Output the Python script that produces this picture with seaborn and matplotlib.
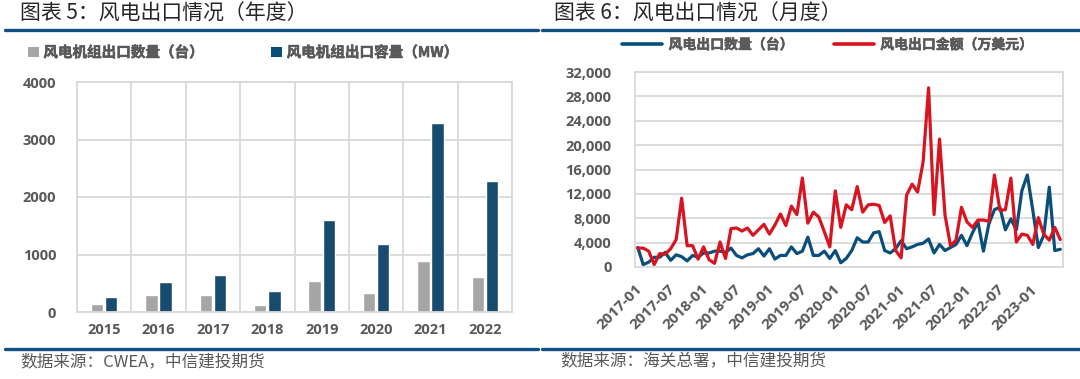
import numpy as np
import pandas as pd
import matplotlib
matplotlib.use('Agg')
import matplotlib.pyplot as plt
import matplotlib.patheffects as pe
from matplotlib.lines import Line2D
from matplotlib.patches import Patch
from matplotlib.ticker import FuncFormatter, FixedLocator
import seaborn as sns

# yearly exports (CWEA)
years = ['2015', '2016', '2017', '2018', '2019', '2020', '2021', '2022']
units = [140, 300, 300, 122, 545, 325, 881, 603]
capacity = [267, 522, 638, 371, 1600, 1183, 3287, 2284]

# monthly exports (customs), 2017-01 .. 2023-06
months = pd.period_range('2017-01', '2023-06', freq='M').strftime('%Y-%m').tolist()
qty = [3200, 400, 800, 1600, 1600, 2400, 1100, 2000, 1700, 1000, 1900, 1600,
       2300, 2300, 2600, 2600, 2400, 3100, 1900, 1500, 2000, 2200, 3000, 1800,
       3000, 1300, 1900, 1900, 3300, 2200, 2600, 4900, 1900, 1900, 2600, 1400,
       2700, 700, 1400, 2700, 4800, 4100, 4100, 5600, 5800, 2700, 2300, 3000,
       4300, 3000, 3300, 3700, 3900, 4600, 2300, 3700, 2700, 3200, 3700, 5200,
       3500, 5600, 7400, 2600, 7100, 9400, 9800, 6100, 7900, 6100, 12500, 15100,
       9300, 3200, 5200, 13100, 2700, 2900]
value = [3100, 3100, 2600, 400, 2200, 2100, 3000, 4500, 11300, 3500, 3500, 1300,
         3300, 1200, 600, 4100, 1400, 6300, 6400, 5900, 6400, 5200, 6100, 7000,
         5400, 6900, 8700, 6800, 10000, 8600, 14600, 7200, 9000, 8200, 5800, 3300,
         12500, 6500, 10200, 9400, 13200, 9000, 10200, 10300, 10100, 7300, 8400, 2700,
         1500, 11800, 13600, 12300, 17200, 29400, 8600, 21000, 8500, 3500, 4400, 9800,
         7400, 6500, 7700, 7700, 7500, 15100, 9300, 9400, 14600, 4100, 5400, 5200,
         3700, 8100, 5400, 4400, 6500, 4500]

s_units = '风电机组出口数量（台）'
s_cap = '风电机组出口容量（MW）'
s_qty = '风电出口数量（台）'
s_val = '风电出口金额（万美元）'

GRAY = '#a6a6a6'
NAVY = '#0a4e7c'
RED = '#d7141f'
GRID = '#d9d9d9'
TXT = '#595959'
HEAD = '#124f82'

sns.set_theme(style='white')
plt.rcParams['font.family'] = ['Noto Sans CJK SC', 'DejaVu Sans']

fig = plt.figure(figsize=(10.8, 3.79), dpi=100)
W, H = 1080, 379


def fx(px):
    return px / W


def fy(py):
    return 1 - py / H


# a little extra weight for the legend text
bold_fx = [pe.withStroke(linewidth=0.4, foreground=TXT)]

# ---------- left: yearly bars ----------
yearly = pd.DataFrame({'year': years * 2,
                       'series': [s_units] * len(years) + [s_cap] * len(years),
                       'val': units + capacity})
ax1 = fig.add_axes([fx(77), fy(312), fx(512 - 77), (312 - 82) / H])
sns.barplot(data=yearly, x='year', y='val', hue='series',
            palette=[GRAY, NAVY], width=0.52, gap=0.12, legend=False, ax=ax1)
ax1.set_ylim(0, 4000)
ax1.set_xlim(-0.5, len(years) - 0.5)
ax1.set_yticks([0, 1000, 2000, 3000, 4000])
ax1.xaxis.set_minor_locator(FixedLocator(np.arange(-0.5, len(years), 1)))
ax1.grid(True, which='minor', axis='x', color=GRID, lw=1.3)
ax1.grid(True, which='major', axis='y', color=GRID, lw=1.3)
ax1.set_axisbelow(True)
ax1.set_xlabel('')
ax1.set_ylabel('')
ax1.tick_params(axis='both', which='both', length=0)
ax1.tick_params(axis='y', pad=15)
ax1.tick_params(axis='x', pad=8)
for sp in ax1.spines.values():
    sp.set_visible(True)
    sp.set_color(GRID)
    sp.set_linewidth(1.3)

leg1 = ax1.legend(handles=[Patch(facecolor=GRAY, edgecolor='none'),
                           Patch(facecolor=NAVY, edgecolor='none')],
                  labels=[s_units, s_cap], ncol=2, loc='center left',
                  bbox_to_anchor=(fx(28), fy(52)), bbox_transform=fig.transFigure,
                  frameon=False, borderpad=0, borderaxespad=0,
                  handlelength=0.75, handleheight=0.75, handletextpad=0.3,
                  columnspacing=4.6, prop={'size': 10.5, 'weight': 'bold'})
for t in leg1.get_texts():
    t.set_color(TXT)
    t.set_path_effects(bold_fx)

# ---------- right: monthly lines ----------
pos = np.arange(len(months)) + 0.5
monthly = pd.DataFrame({'pos': np.concatenate([pos, pos]),
                        'series': [s_qty] * len(months) + [s_val] * len(months),
                        'val': qty + value})
ax2 = fig.add_axes([fx(635), fy(267), fx(1063 - 635), (267 - 72) / H])
sns.lineplot(data=monthly, x='pos', y='val', hue='series',
             palette=[NAVY, RED], linewidth=2.3, legend=False, ax=ax2)
ax2.set_xlim(0, len(months))
ax2.set_ylim(0, 32000)
ax2.set_yticks(np.arange(0, 32001, 4000))
ax2.yaxis.set_major_formatter(FuncFormatter(lambda v, p: f'{int(v):,}'))
tick_pos = np.arange(0, len(months), 6)
ax2.set_xticks(tick_pos)
ax2.set_xticklabels([months[i] for i in tick_pos], rotation=45, ha='right',
                    rotation_mode='anchor')
ax2.xaxis.set_minor_locator(FixedLocator(np.arange(0, len(months) + 1, 6)))
ax2.grid(True, which='minor', axis='x', color=GRID, lw=1.3)
ax2.grid(True, which='major', axis='y', color=GRID, lw=1.3)
ax2.set_axisbelow(True)
ax2.set_xlabel('')
ax2.set_ylabel('')
ax2.tick_params(axis='both', which='major', length=5, width=1.3, color=GRID,
                direction='out')
ax2.tick_params(axis='x', which='major', pad=6)
ax2.tick_params(axis='y', which='major', pad=12)
ax2.tick_params(axis='x', which='minor', length=5, width=1.3, color=GRID)
for sp in ax2.spines.values():
    sp.set_visible(True)
    sp.set_color(GRID)
    sp.set_linewidth(1.3)

leg2 = ax2.legend(handles=[Line2D([], [], color=NAVY, lw=2.6),
                           Line2D([], [], color=RED, lw=2.6)],
                  labels=[s_qty, s_val], ncol=2, loc='center left',
                  bbox_to_anchor=(fx(622), fy(45)), bbox_transform=fig.transFigure,
                  frameon=False, borderpad=0, borderaxespad=0,
                  handlelength=2.9, handletextpad=0.45, columnspacing=2.9,
                  prop={'size': 10, 'weight': 'bold'})
for t in leg2.get_texts():
    t.set_color(TXT)
    t.set_path_effects(bold_fx)

# tick label styling
for ax, xs, ys in ((ax1, 10.5, 10.5), (ax2, 11, 10.5)):
    for lbl in ax.get_xticklabels():
        lbl.set_fontfamily(['Open Sans', 'DejaVu Sans'])
        lbl.set_fontweight('bold')
        lbl.set_fontsize(xs)
        lbl.set_color(TXT)
    for lbl in ax.get_yticklabels():
        lbl.set_fontfamily(['Open Sans', 'DejaVu Sans'])
        lbl.set_fontweight('bold')
        lbl.set_fontsize(ys)
        lbl.set_color(TXT)

# ---------- headers, rules and sources ----------
fig.text(fx(20), fy(14), '图表 5：风电出口情况（年度）', fontsize=15,
         color='#262626', va='center', ha='left')
fig.text(fx(554), fy(14), '图表 6：风电出口情况（月度）', fontsize=15,
         color='#262626', va='center', ha='left')
for x0, x1 in ((5, 538), (542, 1080)):
    for yy in (30, 349):
        fig.add_artist(Line2D([fx(x0), fx(x1)], [fy(yy), fy(yy)],
                              color=HEAD, lw=2.4, transform=fig.transFigure))
fig.text(fx(20), fy(362), '数据来源：CWEA，中信建投期货', fontsize=12,
         color=TXT, style='italic', va='center', ha='left')
fig.text(fx(560), fy(362), '数据来源：海关总署，中信建投期货', fontsize=12,
         color=TXT, style='italic', va='center', ha='left')

fig.savefig('out.png', dpi=100)
